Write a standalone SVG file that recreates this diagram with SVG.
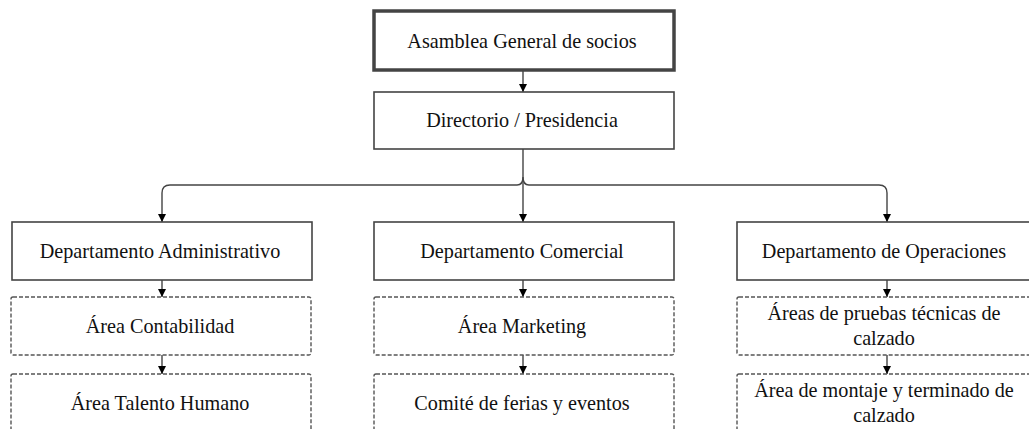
<svg xmlns="http://www.w3.org/2000/svg" width="1029" height="429" viewBox="0 0 1029 429">
<style>
.solid{fill:#fff;stroke:#444;stroke-width:1.6}
.thick{fill:#fff;stroke:#444;stroke-width:3.5}
.dash{fill:#fff;stroke:#555;stroke-width:1.4;stroke-dasharray:4 2}
.t{font-family:"Liberation Serif","Times New Roman",serif;font-size:20.2px;fill:#111;text-anchor:middle}
.c{fill:none;stroke:#444;stroke-width:1.4}
</style>
<defs>
<marker id="ah" viewBox="0 0 10 10" refX="10" refY="5" markerWidth="8" markerHeight="8" markerUnits="userSpaceOnUse" orient="auto">
<path d="M0,0 L10,5 L0,10 Z" fill="#000"/>
</marker>
</defs>
<rect width="1029" height="429" fill="#fff"/>
<g id="connectors">
<path class="c" d="M523,70 V92" marker-end="url(#ah)"/>
<path class="c" d="M523,149 V222" marker-end="url(#ah)"/>
<path class="c" d="M517,185 Q523,185 523,177 Q523,185 529,185"/>
<path class="c" d="M517,185 H170 Q162,185 162,193 V222" marker-end="url(#ah)"/>
<path class="c" d="M529,185 H879 Q887,185 887,193 V222" marker-end="url(#ah)"/>
<path class="c" d="M162,280 V297" marker-end="url(#ah)"/>
<path class="c" d="M162,355 V374" marker-end="url(#ah)"/>
<path class="c" d="M523,280 V297" marker-end="url(#ah)"/>
<path class="c" d="M523,355 V374" marker-end="url(#ah)"/>
<path class="c" d="M887,280 V297" marker-end="url(#ah)"/>
<path class="c" d="M887,355 V374" marker-end="url(#ah)"/>
</g>
<g id="n-asamblea">
<rect class="thick" x="374" y="11" width="300" height="59"/>
<text class="t" x="522" y="48">Asamblea General de socios</text>
</g>
<g id="n-directorio">
<rect class="solid" x="374" y="92" width="300" height="57"/>
<text class="t" x="522" y="127">Directorio / Presidencia</text>
</g>
<g id="n-admin">
<rect class="solid" x="12" y="222" width="300" height="58"/>
<text class="t" x="160" y="258">Departamento Administrativo</text>
</g>
<g id="n-comercial">
<rect class="solid" x="374" y="222" width="300" height="58"/>
<text class="t" x="522" y="258">Departamento Comercial</text>
</g>
<g id="n-operaciones">
<rect class="solid" x="737" y="222" width="300" height="58"/>
<text class="t" x="884" y="258">Departamento de Operaciones</text>
</g>
<g id="n-contabilidad">
<rect class="dash" x="11" y="297" width="300" height="58" rx="2"/>
<text class="t" x="160" y="333">Área Contabilidad</text>
</g>
<g id="n-talento">
<rect class="dash" x="11" y="374" width="300" height="70" rx="2"/>
<text class="t" x="160" y="410">Área Talento Humano</text>
</g>
<g id="n-marketing">
<rect class="dash" x="374" y="297" width="300" height="58" rx="2"/>
<text class="t" x="522" y="333">Área Marketing</text>
</g>
<g id="n-ferias">
<rect class="dash" x="374" y="374" width="300" height="70" rx="2"/>
<text class="t" x="522" y="410">Comité de ferias y eventos</text>
</g>
<g id="n-pruebas">
<rect class="dash" x="737" y="297" width="300" height="58" rx="2"/>
<text class="t" x="884" y="320">Áreas de pruebas técnicas de</text>
<text class="t" x="884" y="345">calzado</text>
</g>
<g id="n-montaje">
<rect class="dash" x="737" y="374" width="300" height="70" rx="2"/>
<text class="t" x="884" y="397">Área de montaje y terminado de</text>
<text class="t" x="884" y="422">calzado</text>
</g>
</svg>
